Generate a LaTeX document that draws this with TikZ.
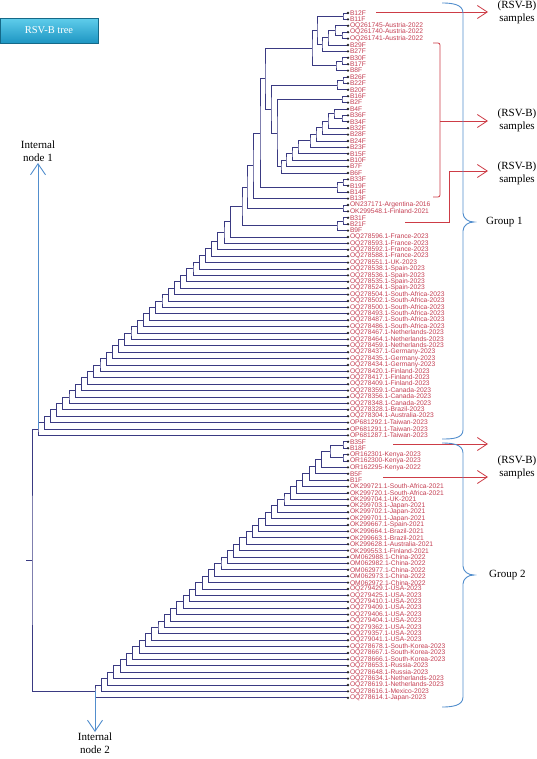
\documentclass[tikz,border=0pt]{standalone}
\usepackage{fontspec}
\setmainfont{Liberation Serif}
\newfontfamily\labelfont{Liberation Sans}
\usetikzlibrary{calc,positioning,arrows.meta}
\definecolor{treeblue}{RGB}{58,58,130}
\definecolor{labred}{RGB}{196,62,82}
\definecolor{markred}{RGB}{205,60,70}
\definecolor{braceblue}{RGB}{82,142,205}
\definecolor{btntop}{RGB}{95,205,235}
\definecolor{btnbot}{RGB}{30,150,195}

% clade: name, x, upper child, lower child
\newcommand\clade[4]{%
  \path let \p1=(#3), \p2=(#4) in coordinate (#1) at (#2,{(\y1+\y2)/2});
  \draw[branch] (#3) -| (#1) |- (#4);}

\begin{document}
\begin{tikzpicture}[x=1pt,y=1pt,
  branch/.style={treeblue,line width=0.9pt},
  tipdot/.style={fill=black!85},
  leaflabel/.style={anchor=west,xshift=1.8pt,inner sep=0pt,text=labred,
    font=\labelfont\fontsize{6.7}{6.7}\selectfont},
  note/.style={align=center,inner sep=0pt,font=\fontsize{11}{13}\selectfont},
  markline/.style={markred,line width=0.8pt},
  markarrow/.style={markline,-{Straight Barb[length=10pt,width=13pt]}},
  bracecurve/.style={braceblue,line width=0.9pt},
  nodearrow/.style={braceblue,line width=0.9pt,-{Straight Barb[length=11pt,width=15pt]}},
  btn/.style={minimum width=98pt,minimum height=24.5pt,inner sep=0pt,
    top color=btntop,bottom color=btnbot,draw=btnbot!70!black,text=white,
    font=\fontsize{10.5}{12}\selectfont}]
\useasboundingbox (0,0) rectangle (536,-759);

\node[btn] (title) at (49,-30.5) {RSV-B tree};

% leaves
\foreach \lab [count=\i] in {B12F,B11F,OQ261745-Austria-2022,OQ261740-Austria-2022,
  OQ261741-Austria-2022,B29F,B27F,B30F,B17F,B8F,B26F,B22F,B20F,B16F,B2F,B4F,B36F,
  B34F,B32F,B28F,B24F,B23F,B15F,B10F,B7F,B6F,B33F,B19F,B14F,B13F,
  ON237171-Argentina-2016,OK299548.1-Finland-2021,B31F,B21F,B9F,
  OQ278596.1-France-2023,OQ278593.1-France-2023,OQ278592.1-France-2023,
  OQ278588.1-France-2023,OQ278551.1-UK-2023,OQ278538.1-Spain-2023,
  OQ278536.1-Spain-2023,OQ278535.1-Spain-2023,OQ278524.1-Spain-2023,
  OQ278504.1-South-Africa-2023,OQ278502.1-South-Africa-2023,
  OQ278500.1-South-Africa-2023,OQ278493.1-South-Africa-2023,
  OQ278487.1-South-Africa-2023,OQ278486.1-South-Africa-2023,
  OQ278467.1-Netherlands-2023,OQ278464.1-Netherlands-2023,
  OQ278459.1-Netherlands-2023,OQ278437.1-Germany-2023,OQ278435.1-Germany-2023,
  OQ278434.1-Germany-2023,OQ278420.1-Finland-2023,OQ278417.1-Finland-2023,
  OQ278409.1-Finland-2023,OQ278359.1-Canada-2023,OQ278356.1-Canada-2023,
  OQ278348.1-Canada-2023,OQ278328.1-Brazil-2023,OQ278304.1-Australia-2023,
  OP681292.1-Taiwan-2023,OP681291.1-Taiwan-2023,OP681287.1-Taiwan-2023,
  B35F,B18F,OR162301-Kenya-2023,OR162300-Kenya-2023,OR162295-Kenya-2022,B5F,B1F,
  OK299721.1-South-Africa-2021,OK299720.1-South-Africa-2021,OK299704.1-UK-2021,
  OK299703.1-Japan-2021,OK299702.1-Japan-2021,OK299701.1-Japan-2021,
  OK299667.1-Spain-2021,OK299664.1-Brazil-2021,OK299663.1-Brazil-2021,
  OK299628.1-Australia-2021,OK299553.1-Finland-2021,OM062988.1-China-2022,
  OM062982.1-China-2022,OM062977.1-China-2022,OM062973.1-China-2022,
  OM062972.1-China-2022,OQ279429.1-USA-2023,OQ279425.1-USA-2023,
  OQ279410.1-USA-2023,OQ279409.1-USA-2023,OQ279406.1-USA-2023,
  OQ279404.1-USA-2023,OQ279362.1-USA-2023,OQ279357.1-USA-2023,
  OQ279041.1-USA-2023,OQ278678.1-South-Korea-2023,OQ278667.1-South-Korea-2023,
  OQ278666.1-South-Korea-2023,OQ278653.1-Russia-2023,OQ278648.1-Russia-2023,
  OQ278634.1-Netherlands-2023,OQ278619.1-Netherlands-2023,
  OQ278616.1-Mexico-2023,OQ278614.1-Japan-2023}{
  \coordinate (l\i) at (348,{-13-6.4*(\i-1)});
  \node[leaflabel] (n\i) at (l\i) {\lab};
}

% upper clade of group 1
\clade{k1}{343}{l1}{l2}
\clade{au2}{342}{l4}{l5}
\clade{au1}{335}{l3}{au2}
\clade{a1}{328}{au1}{l6}
\clade{a0}{322}{a1}{l7}
\clade{u1}{317}{k1}{a0}
\clade{u3}{342}{l8}{l9}
\clade{u2}{336}{u3}{l10}
\clade{u0}{312}{u1}{u2}
\clade{r1}{343}{l11}{l12}
\clade{r0}{337}{r1}{l13}
\clade{w1}{342}{l14}{l15}
\clade{x9}{342}{l17}{l18}
\clade{x8}{334}{l16}{x9}
\clade{x7}{328}{x8}{l19}
\clade{x6}{322}{x7}{l20}
\clade{x5}{316}{x6}{l21}
\clade{x4}{310}{x5}{l22}
\clade{x3}{298}{x4}{l23}
\clade{x2}{292}{x3}{l24}
\clade{x1}{286}{x2}{l25}
\clade{x0}{281}{x1}{l26}
\clade{w0}{277}{w1}{x0}
\clade{v0}{271}{r0}{w0}
\clade{td}{265}{u0}{v0}
\clade{q1}{343}{l27}{l28}
\clade{q0}{337}{q1}{l29}
\clade{tc}{260}{td}{q0}
\clade{tb}{253}{tc}{l30}
\clade{on}{343}{l31}{l32}
\clade{ta}{247}{tb}{on}
\clade{kb}{343}{l33}{l34}
\clade{ka}{337}{kb}{l35}
\clade{top1}{242}{ta}{ka}

% group 1 ladder
\coordinate (c32) at (top1);
\foreach \k in {31,30,...,0}{
  \pgfmathtruncatemacro\nxt{\k+1}
  \pgfmathtruncatemacro\lf{67-\k}
  \clade{c\k}{38+6.2*\k}{c\nxt}{l\lf}
}

% group 2
\clade{g2a}{343}{l68}{l69}
\clade{g2b}{343}{l70}{l71}
\clade{top2}{330}{g2a}{g2b}
\coordinate (d37) at (top2);
\foreach \k in {36,35,...,0}{
  \pgfmathtruncatemacro\nxt{\k+1}
  \pgfmathtruncatemacro\lf{108-\k}
  \clade{d\k}{95+6.3*\k}{d\nxt}{l\lf}
}

% root
\clade{root}{32}{c0}{d0}
\coordinate (stem) at ($(root)+(-6,0)$);
\draw[branch] (stem) -- (root);

\foreach \i in {1,...,108}
  \fill[tipdot] (l\i) circle (1.3);

% internal nodes
\coordinate (in1tip) at (38,-163);
\draw[nodearrow] (c0) -- (in1tip);
\node[note,above=1pt of in1tip] (in1) {Internal\\node 1};
\coordinate (in2tip) at (95,-732);
\draw[nodearrow] (d0) -- (in2tip);
\node[note,below=1pt of in2tip] (in2) {Internal\\node 2};

% sample marks
\node[note] (s1) at (517,-12.5) {(RSV-B)\\samples};
\node[note] (s2) at (517,-120) {(RSV-B)\\samples};
\node[note] (s3) at (517,-173) {(RSV-B)\\samples};
\node[note] (s4) at (517,-467.5) {(RSV-B)\\samples};

\coordinate (a1s) at (376,-12);
\coordinate (a1e) at (488,-12);
\draw[markarrow] (a1s) -- (a1e);

\coordinate (bt) at (433,-43);
\coordinate (br1) at (440,-43);
\coordinate (br2) at (440,-197);
\coordinate (bb) at (433,-197);
\draw[markline,rounded corners=2pt] (bt) -- (br1) -- (br2) -- (bb);
\coordinate (bm) at (440,-121);
\coordinate (a2e) at (488,-121);
\draw[markarrow] (bm) -- (a2e);

\coordinate (a3s) at (405,-222);
\coordinate (a3c1) at (449,-222);
\coordinate (a3c2) at (449,-171);
\coordinate (a3e) at (488,-171);
\draw[markarrow] (a3s) -- (a3c1) -- (a3c2) -- (a3e);

\coordinate (a4s) at (393,-444);
\coordinate (a4e) at (488,-444);
\draw[markarrow] (a4s) -- (a4e);
\coordinate (a5s) at (383,-477);
\coordinate (a5e) at (488,-477);
\draw[markarrow] (a5s) -- (a5e);

% groups
\draw[bracecurve] (442,-3) to[out=0,in=90] (463,-13) -- (463,-213)
  to[out=-90,in=180] (474,-222) to[out=180,in=90] (463,-231) -- (463,-430)
  to[out=-90,in=0] (442,-439);
\node[note,anchor=west] (grp1) at (486,-222) {Group 1};
\draw[bracecurve] (442,-443) to[out=0,in=90] (463,-453) -- (463,-566)
  to[out=-90,in=180] (474,-575) to[out=180,in=90] (463,-584) -- (463,-697)
  to[out=-90,in=0] (442,-707);
\node[note,anchor=west] (grp2) at (489,-575) {Group 2};
\end{tikzpicture}
\end{document}
